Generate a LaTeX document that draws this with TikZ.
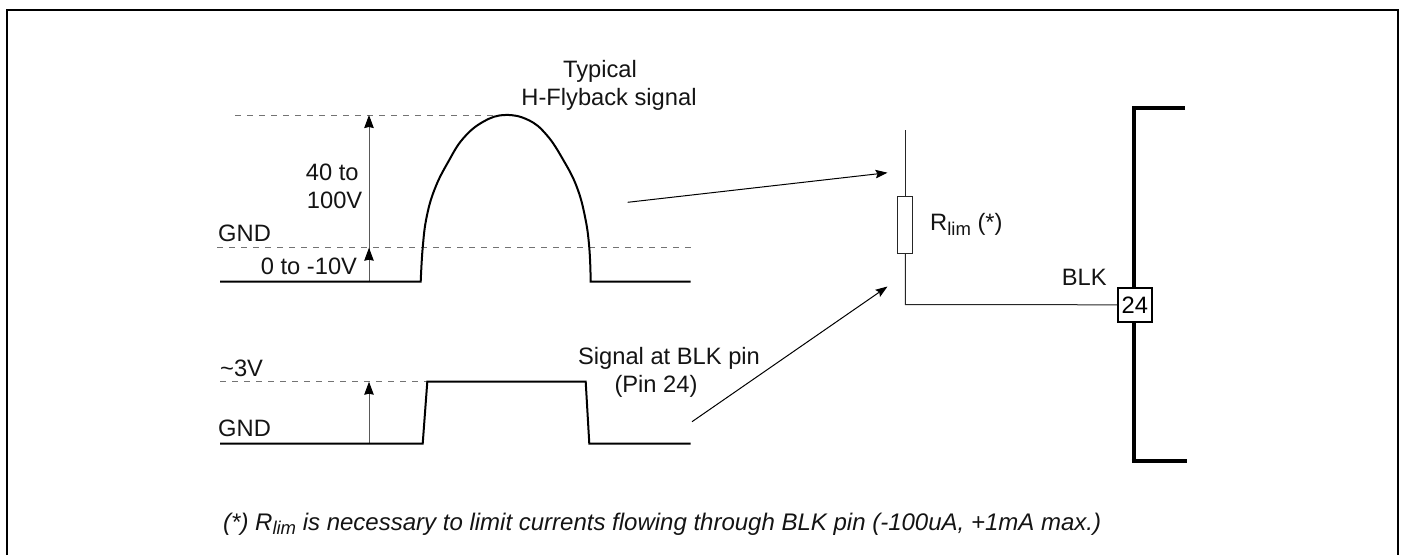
\documentclass[tikz,border=0pt]{standalone}
\usepackage{fontspec}
\setmainfont{Liberation Sans}
\usetikzlibrary{arrows.meta}
\newcommand{\lblfont}{\fontsize{23.7}{28}\selectfont}
\newcommand{\notefont}{\fontsize{24}{28}\selectfont\itshape}
\newcommand{\subs}[1]{\raisebox{-4.5pt}{\fontsize{18.5}{20}\selectfont #1}}
\tikzset{
  x=1pt,y=-1pt,
  lbl/.style={inner sep=0pt,font=\lblfont,anchor=base west,text=black!92},
  lblc/.style={inner sep=0pt,font=\lblfont,anchor=base,text=black!92},
  sig/.style={line width=2pt,line join=miter},
  ref/.style={line width=1pt,dash pattern=on 6pt off 6pt,black!55},
  dim/.style={line width=1pt,black!65,-{Stealth[length=13pt,width=9.5pt,inset=1pt,fill=black,color=black]}},
  call/.style={line width=1pt,black,-{Stealth[length=12pt,width=8.5pt,inset=2pt]}},
  wire/.style={line width=1pt,black!85},
}
\begin{document}
\begin{tikzpicture}
\useasboundingbox (0,0) rectangle (1401,555);
\draw[line width=2pt] (7,555) -- (7,10) -- (1398,10) -- (1398,555);
% reference lines
\coordinate (t1) at (235,115); \coordinate (t2) at (505,115);
\coordinate (g1) at (217,247.7); \coordinate (g2) at (691,247.7);
\coordinate (h1) at (220,381.7); \coordinate (h2) at (427,381.7);
\draw[ref] (t1) -- (t2);
\draw[ref] (g1) -- (g2);
\draw[ref] (h1) -- (h2);
% dimension arrows
\coordinate (a0) at (369,281); \coordinate (a1) at (369,247.7); \coordinate (a2) at (369,115);
\coordinate (b0) at (369,443); \coordinate (b1) at (369,381.7);
\draw[dim] (a0) -- (a2);
\draw[dim] (a0) -- (a1);
\draw[dim] (b0) -- (b1);
% signals
\draw[sig] (220,281.7) -- (420.7,281.7) -- plot[smooth,tension=.7] coordinates {(420.7,281.7) (422.7,247.7) (426.7,216.7) (435,188.3) (448.3,161.7) (463.3,138.3) (483.3,121.7) (505,115) (528.3,120) (546.7,135) (563.3,160) (576.7,186.7) (585,216.7) (589.3,247.7) (590.7,281.7)} -- (690.7,281.7);
\draw[sig] (220,443.7) -- (422.7,443.7) -- (427.3,381.7) -- (585.7,381.7) -- (589.3,443.7) -- (690.7,443.7);
% resistor and pin
\node[draw=black!85,line width=1pt,minimum width=15pt,minimum height=57.3pt,inner sep=0pt] (rlim) at (905.3,224.7) {};
\coordinate (top) at (905.3,130);
\coordinate (corner) at (905.3,304.5);
\draw[wire] (top) -- (rlim.north);
\draw[line width=4pt] (1185,107.7) -- (1131.5,107.7) (1133.7,107.7) -- (1133.7,461) (1131.5,461) -- (1187,461);
\node[draw,line width=1.6pt,fill=white,minimum width=34pt,minimum height=34pt,inner sep=0pt,font=\lblfont] (pin) at (1134.8,304.8) {24};
\draw[wire] (rlim.south) -- (corner) -- (pin.west);
% call-out arrows
\coordinate (c1) at (627.7,202.3); \coordinate (c2) at (887.5,172.7);
\coordinate (d1) at (692,421.7); \coordinate (d2) at (887.5,286.5);
\draw[call] (c1) -- (c2);
\draw[call] (d1) -- (d2);
% labels
\node[lblc] (typa) at (600,77.3) {Typical};
\node[lblc] (typb) at (609,105) {H-Flyback signal};
\node[lbl] (va) at (305.7,180) {40 to};
\node[lbl] (vb) at (306.7,208) {100V};
\node[lbl] (gnda) at (218,241.7) {GND};
\node[lbl] (vz) at (260.7,274.3) {0 to -10V};
\node[lbl] (vt) at (220,376.7) {\textasciitilde 3V};
\node[lbl] (gndb) at (218,436) {GND};
\node[lblc] (siga) at (669,364.3) {Signal at BLK pin};
\node[lblc] (sigb) at (656,392) {(Pin 24)};
\node[lbl] (rl) at (930,230.7) {R\subs{lim} (*)};
\node[lbl] (blk) at (1061.7,285) {BLK};
\node[lbl,font=\notefont] (note) at (223,530) {(*) R\subs{lim} is necessary to limit currents flowing through BLK pin (-100uA, +1mA max.)};
\end{tikzpicture}
\end{document}
